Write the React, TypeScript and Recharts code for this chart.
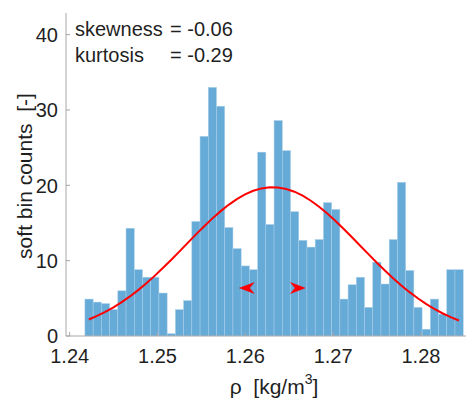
import React from "react";
import {
  ComposedChart,
  Bar,
  Line,
  Scatter,
  XAxis,
  YAxis,
  Label,
  Customized,
} from "recharts";

// histogram bins (left edge of the first bin, width of one bin)
const binStart = 1.24171;
const binWidth = 0.0009365;

const softCounts = [
  4.9, 4.5, 4.3, 3.5, 6.0, 14.3, 8.8, 7.8, 7.8, 5.7,
  0.3, 3.5, 4.7, 15.2, 26.5, 33.0, 30.5, 14.4, 11.6, 9.3,
  8.8, 24.4, 14.8, 28.6, 24.6, 16.5, 12.7, 11.8, 12.8, 17.7,
  16.8, 4.9, 6.8, 7.8, 3.8, 9.8, 6.9, 12.8, 20.4, 8.7,
  3.8, 0.9, 4.9, 2.9, 8.8, 8.8,
];

// normal fit, read at each bin centre
const fitCounts = [
  2.19, 2.66, 3.19, 3.8, 4.49, 5.25, 6.09, 7.0, 7.98, 9.02,
  10.09, 11.2, 12.33, 13.45, 14.53, 15.58, 16.54, 17.41, 18.17, 18.8,
  19.28, 19.59, 19.74, 19.71, 19.51, 19.15, 18.62, 17.95, 17.16, 16.26,
  15.26, 14.2, 13.1, 11.98, 10.87, 9.76, 8.69, 7.67, 6.71, 5.82,
  5.01, 4.27, 3.61, 3.02, 2.51, 2.06,
];

const arrowMarks = [
  { rho: 1.25926, count: 6.36, dir: -1 },
  { rho: 1.26689, count: 6.36, dir: 1 },
];

const xTicks = [1.24, 1.25, 1.26, 1.27, 1.28];
const yTicks = [0, 10, 20, 30, 40];
const xDomain = [1.23958, 1.28513];
const yDomain = [0, 42.87];

const skewness = "-0.06";
const kurtosis = "-0.29";

const data = softCounts.map((c, i) => ({
  rho: binStart + (i + 0.5) * binWidth,
  count: c,
  fit: fitCounts[i],
}));

const W = 471;
const H = 401;
const margin = { top: 13, right: 5, bottom: 0, left: 10 };
const yAxisW = 56;
const xAxisH = 65;
const plotW = W - margin.left - margin.right - yAxisW;
const barPx = (binWidth * plotW) / (xDomain[1] - xDomain[0]);

const font = "'Liberation Sans', Arial, Helvetica, sans-serif";
const axisGray = "#a6a6a6";
const textColor = "#1f1f1f";

const XTick = (props: any) => {
  const { x, y, payload } = props;
  return (
    <g>
      <line x1={x} x2={x} y1={y} y2={y - 4} stroke={axisGray} />
      <text x={x} y={y + 27} textAnchor="middle" fontSize={20} fontFamily={font} fill={textColor}>
        {Number(payload.value).toFixed(2)}
      </text>
    </g>
  );
};

const YTick = (props: any) => {
  const { x, y, payload } = props;
  return (
    <g>
      <line x1={x} x2={x + 4} y1={y} y2={y} stroke={axisGray} />
      <text x={x - 8} y={y} dy="0.36em" textAnchor="end" fontSize={20} fontFamily={font} fill={textColor}>
        {payload.value}
      </text>
    </g>
  );
};

// full-width histogram bar, centred on the position the axis gives
const HistBar = (props: any) => {
  const { x, y, width, height } = props;
  if (height == null || height <= 0) return null;
  const cx = x + width / 2;
  return (
    <rect
      x={cx - barPx / 2}
      y={y}
      width={barPx}
      height={height}
      fill="#66aad7"
      stroke="#a9cfea"
      strokeWidth={0.5}
    />
  );
};

const ArrowHead = (props: any) => {
  const { cx, cy, payload } = props;
  const d = payload.dir;
  const pts = [
    [cx, cy],
    [cx - d * 16, cy - 6],
    [cx - d * 11, cy],
    [cx - d * 16, cy + 6],
  ]
    .map((p) => p.join(","))
    .join(" ");
  return <polygon points={pts} fill="#ff0000" />;
};

const Stats = () => (
  <g fontFamily={font} fontSize={20} fill={textColor}>
    <text x={75} y={36}>skewness</text>
    <text x={170} y={36}>{`= ${skewness}`}</text>
    <text x={75} y={61.5}>kurtosis</text>
    <text x={170} y={61.5}>{`= ${kurtosis}`}</text>
  </g>
);

export default function App() {
  return (
    <div style={{ position: "absolute", left: 0, top: 0, width: W, height: H, background: "#fff" }}>
      <ComposedChart width={W} height={H} data={data} margin={margin}>
        <XAxis
          dataKey="rho"
          type="number"
          domain={xDomain}
          ticks={xTicks}
          allowDataOverflow
          height={xAxisH}
          tickSize={0}
          tickMargin={0}
          tickLine={false}
          axisLine={{ stroke: axisGray }}
          tick={<XTick />}
        >
          <Label
            content={() => (
              <text x={274} y={394} textAnchor="middle" fontFamily={font} fontSize={21} fill={textColor} style={{ whiteSpace: "pre" }}>
                {"ρ  [kg/m"}
                <tspan dy={-10} fontSize={14}>3</tspan>
                <tspan dy={10} fontSize={21}>]</tspan>
              </text>
            )}
          />
        </XAxis>
        <YAxis
          type="number"
          domain={yDomain}
          ticks={yTicks}
          allowDataOverflow
          width={yAxisW}
          tickSize={0}
          tickMargin={0}
          tickLine={false}
          axisLine={{ stroke: axisGray }}
          tick={<YTick />}
        >
          <Label
            content={() => (
              <text
                transform="rotate(-90)"
                x={-176}
                y={32}
                textAnchor="middle"
                fontFamily={font}
                fontSize={21}
                fill={textColor}
                style={{ whiteSpace: "pre" }}
              >
                {"soft bin counts  [-]"}
              </text>
            )}
          />
        </YAxis>
        <Bar dataKey="count" shape={<HistBar />} isAnimationActive={false} />
        <Line
          dataKey="fit"
          type="linear"
          stroke="#ff0000"
          strokeWidth={2}
          dot={false}
          activeDot={false}
          isAnimationActive={false}
        />
        <Scatter data={arrowMarks} dataKey="count" shape={<ArrowHead />} isAnimationActive={false} />
        <Customized component={Stats} />
      </ComposedChart>
    </div>
  );
}
